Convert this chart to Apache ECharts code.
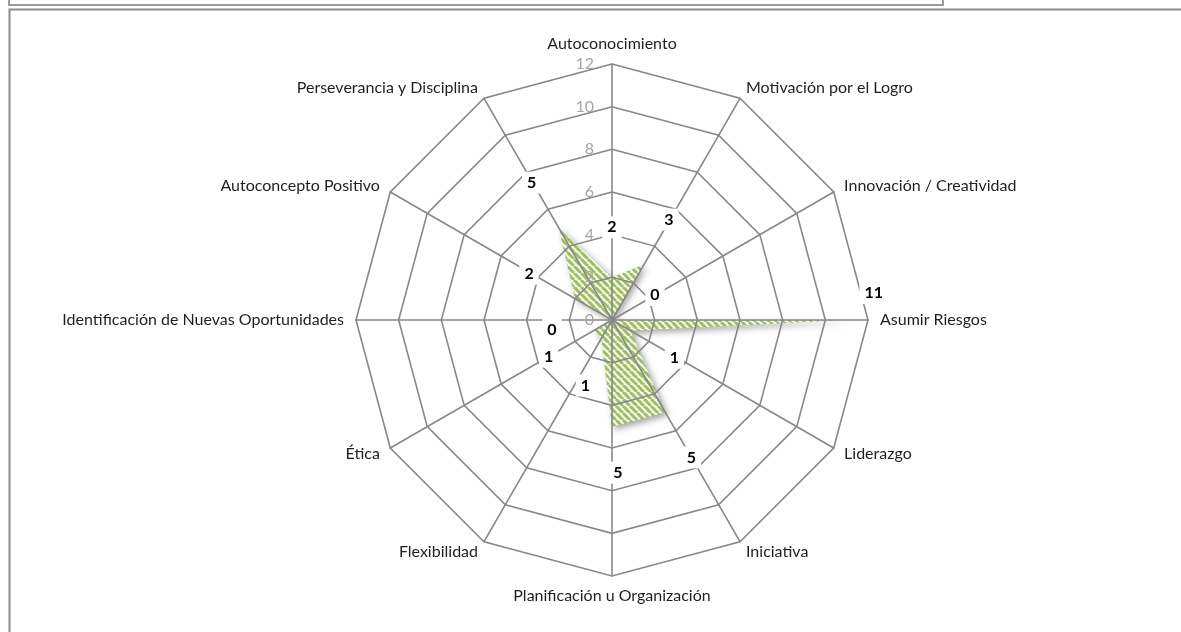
<!DOCTYPE html>
<html>
<head>
<meta charset="utf-8">
<script src="https://cdn.jsdelivr.net/npm/echarts@6/dist/echarts.min.js"></script>
<style>
  html, body { margin: 0; padding: 0; background: #fff; }
  #chart { width: 1181px; height: 632px; }
</style>
</head>
<body>
<div id="chart"></div>
<script>
// Competencias (clockwise from the top)
const categories = [
  'Autoconocimiento',
  'Motivación por el Logro',
  'Innovación / Creatividad',
  'Asumir Riesgos',
  'Liderazgo',
  'Iniciativa',
  'Planificación u Organización',
  'Flexibilidad',
  'Ética',
  'Identificación de Nuevas Oportunidades',
  'Autoconcepto Positivo',
  'Perseverancia y Disciplina'
];
const values = [2, 3, 0, 11, 1, 5, 5, 1, 1, 0, 2, 5];
const scaleMin = 0;
const scaleMax = 12;
const scaleStep = 2;

// Label placement (pixel offsets from each vertex), per category
const labelOffsets = [
  [0, -50], [25, -45], [43, -25], [27, -27], [44, 27], [26, 45],
  [6, 46], [-16, 47], [-45, 26], [-60, 10], [-46, -25], [-27, -45]
];

const CENTER = [612, 320];
const RADIUS = 256;
const GRID = '#888888';
const FONT = 'Lato, "Open Sans", sans-serif';

// ECharts lays radar indicators out counter-clockwise; reorder so they run clockwise.
const order = [0].concat(categories.map((_, i) => i).slice(1).reverse());

// Diagonal hatch fill
function hatch() {
  const p = 7;
  const c = document.createElement('canvas');
  c.width = p; c.height = p;
  const g = c.getContext('2d');
  g.fillStyle = '#f4f8ec';
  g.fillRect(0, 0, p, p);
  g.strokeStyle = '#9fbd63';
  g.lineWidth = 3;
  for (let k = -1; k <= 1; k++) {
    g.beginPath();
    g.moveTo(k * p, 0);
    g.lineTo(k * p + p, p);
    g.stroke();
  }
  return c;
}

const indicator = order.map(i => ({ name: categories[i], min: scaleMin, max: scaleMax }));
const seriesValues = order.map(i => values[i]);

// One invisible polygon per category that only carries that category's value label
const labelItems = categories.map((_, i) => {
  const dim = order.indexOf(i);
  const v = order.map(j => (j === i ? values[i] : 0));
  return {
    value: v,
    label: {
      offset: labelOffsets[i],
      formatter: p => (p.dimensionIndex === dim ? '{v|' + values[i] + '}' : '')
    }
  };
});

const chart = echarts.init(document.getElementById('chart'), null, { renderer: 'canvas' });
chart.setOption({
  backgroundColor: '#fff',
  animation: false,
  graphic: [
    {
      type: 'rect', z: 0,
      shape: { x: 9, y: -10, width: 934, height: 15 },
      style: { fill: 'none', stroke: '#7a7a7a', lineWidth: 1.5 }
    },
    {
      type: 'rect', z: 0,
      shape: { x: 9.5, y: 9.5, width: 1200, height: 700 },
      style: { fill: 'none', stroke: '#8c8c8c', lineWidth: 2 }
    }
  ],
  radar: {
    z: 3,
    center: CENTER,
    radius: RADIUS,
    startAngle: 90,
    splitNumber: (scaleMax - scaleMin) / scaleStep,
    shape: 'polygon',
    indicator: indicator,
    nameGap: 12,
    axisName: { color: '#1f1f1f', fontFamily: FONT, fontSize: 16 },
    axisLine: { lineStyle: { color: GRID, width: 1.6 } },
    splitLine: { lineStyle: { color: GRID, width: 1.6 } },
    splitArea: { show: false },
    axisTick: { show: false },
    axisLabel: { show: false }
  },
  polar: { center: CENTER, radius: [0, RADIUS] },
  angleAxis: { show: false, startAngle: 90, min: 0, max: 360 },
  radiusAxis: {
    z: 3,
    min: scaleMin, max: scaleMax, interval: scaleStep,
    axisLine: { show: false },
    axisTick: { show: false },
    splitLine: { show: false },
    axisLabel: { color: '#a6a6a6', fontFamily: FONT, fontSize: 16, margin: 18 }
  },
  series: [
    {
      type: 'radar',
      z: 1,
      symbol: 'none',
      silent: true,
      lineStyle: { color: 'rgba(255,255,255,0.9)', width: 1 },
      areaStyle: {
        color: { image: hatch(), repeat: 'repeat' },
        opacity: 1,
        shadowColor: 'rgba(0,0,0,0.35)',
        shadowBlur: 6,
        shadowOffsetX: 3,
        shadowOffsetY: 3
      },
      data: [{ value: seriesValues }]
    },
    {
      type: 'radar',
      z: 5,
      silent: true,
      symbol: 'circle',
      symbolSize: 1,
      itemStyle: { color: 'rgba(0,0,0,0)' },
      lineStyle: { width: 0, opacity: 0 },
      label: {
        show: true,
        position: 'inside',
        rich: {
          v: {
            color: '#000',
            fontFamily: FONT,
            fontWeight: 'bold',
            fontSize: 16,
            backgroundColor: '#fff',
            padding: [3, 5]
          }
        }
      },
      data: labelItems
    }
  ]
});
</script>
</body>
</html>
